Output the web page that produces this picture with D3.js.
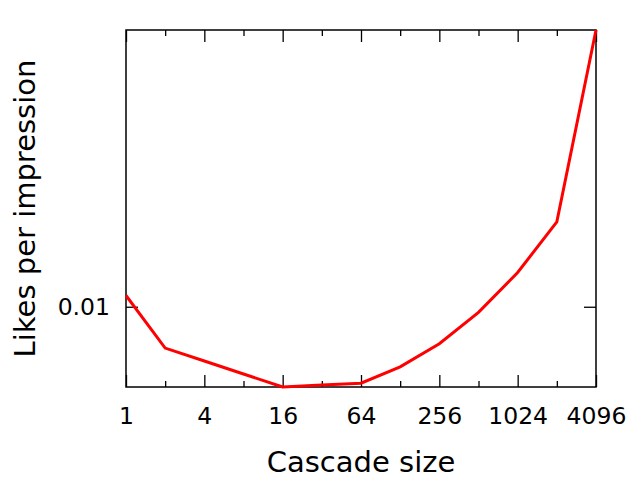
<html>
<head>
<style>
  body { margin: 0; background: #fff; }
  svg { font-family: "DejaVu Sans", sans-serif; }
  .axis line { stroke: #000; stroke-width: 1.3; }
  .axis path { display: none; }
  .title { font-size: 29px; fill: #000; }
</style>
<script src="https://cdn.jsdelivr.net/npm/d3@7"></script>
</head>
<body>
<svg id="svg"></svg>
<script>
  var width = 640,
      height = 480,
      plotLeft = 126, plotRight = 596, plotTop = 30, plotBottom = 387;

  // cascade size (x) and likes per impression (y)
  var sizes = [1, 2, 4, 8, 16, 32, 64, 128, 256, 512, 1024, 2048, 4096];
  var likes = [0.01058, 0.00813, 0.00762, 0.00714, 0.00669, 0.00676, 0.00682,
               0.00740, 0.00831, 0.00972, 0.01187, 0.0153, 0.040];
  var xMajor = [1, 4, 16, 64, 256, 1024, 4096];
  var xMinor = [2, 8, 32, 128, 512, 2048];
  var yTicks = [0.01];

  var svg = d3.select("#svg")
      .attr("width", width)
      .attr("height", height);

  var x = d3.scaleLog().base(2)
      .domain([1, 4096])
      .range([plotLeft, plotRight]);

  var y = d3.scaleLog()
      .domain([0.00669, 0.040])
      .range([plotBottom, plotTop]);

  function styleAxis(g) {
    g.attr("font-family", null).attr("font-size", null);
    g.selectAll("text").attr("font-size", 23.5).attr("fill", "#000");
  }

  // bottom axis with labels
  svg.append("g").attr("class", "axis")
      .attr("transform", "translate(0," + plotBottom + ")")
      .call(d3.axisBottom(x).tickValues(xMajor).tickFormat(d3.format("d"))
        .tickSize(-12).tickPadding(20))
      .call(styleAxis);
  svg.append("g").attr("class", "axis")
      .attr("transform", "translate(0," + plotBottom + ")")
      .call(d3.axisBottom(x).tickValues(xMinor).tickFormat("").tickSize(-6));
  // top mirror ticks
  svg.append("g").attr("class", "axis")
      .attr("transform", "translate(0," + plotTop + ")")
      .call(d3.axisTop(x).tickValues(xMajor).tickFormat("").tickSize(-12));
  svg.append("g").attr("class", "axis")
      .attr("transform", "translate(0," + plotTop + ")")
      .call(d3.axisTop(x).tickValues(xMinor).tickFormat("").tickSize(-6));

  // y axes
  svg.append("g").attr("class", "axis")
      .attr("transform", "translate(" + plotLeft + ",0)")
      .call(d3.axisLeft(y).tickValues(yTicks).tickFormat(d3.format(".2f"))
        .tickSize(-12).tickPadding(16))
      .call(styleAxis);
  svg.append("g").attr("class", "axis")
      .attr("transform", "translate(" + plotRight + ",0)")
      .call(d3.axisRight(y).tickValues(yTicks).tickFormat("").tickSize(-12));

  // border
  svg.append("rect")
      .attr("x", plotLeft).attr("y", plotTop)
      .attr("width", plotRight - plotLeft).attr("height", plotBottom - plotTop)
      .attr("fill", "none").attr("stroke", "#000").attr("stroke-width", 1.5);

  var line = d3.line()
      .x(function(d, i) { return x(sizes[i]); })
      .y(function(d) { return y(d); });

  svg.append("path")
      .datum(likes)
      .attr("d", line)
      .attr("fill", "none")
      .attr("stroke", "#ff0000")
      .attr("stroke-width", 3)
      .attr("stroke-linejoin", "miter");

  svg.append("text").attr("class", "title")
      .attr("x", (plotLeft + plotRight) / 2).attr("y", 472)
      .attr("text-anchor", "middle")
      .text("Cascade size");

  svg.append("text").attr("class", "title")
      .attr("transform", "translate(35," + (plotTop + plotBottom) / 2 + ") rotate(-90)")
      .attr("text-anchor", "middle")
      .text("Likes per impression");
</script>
</body>
</html>
